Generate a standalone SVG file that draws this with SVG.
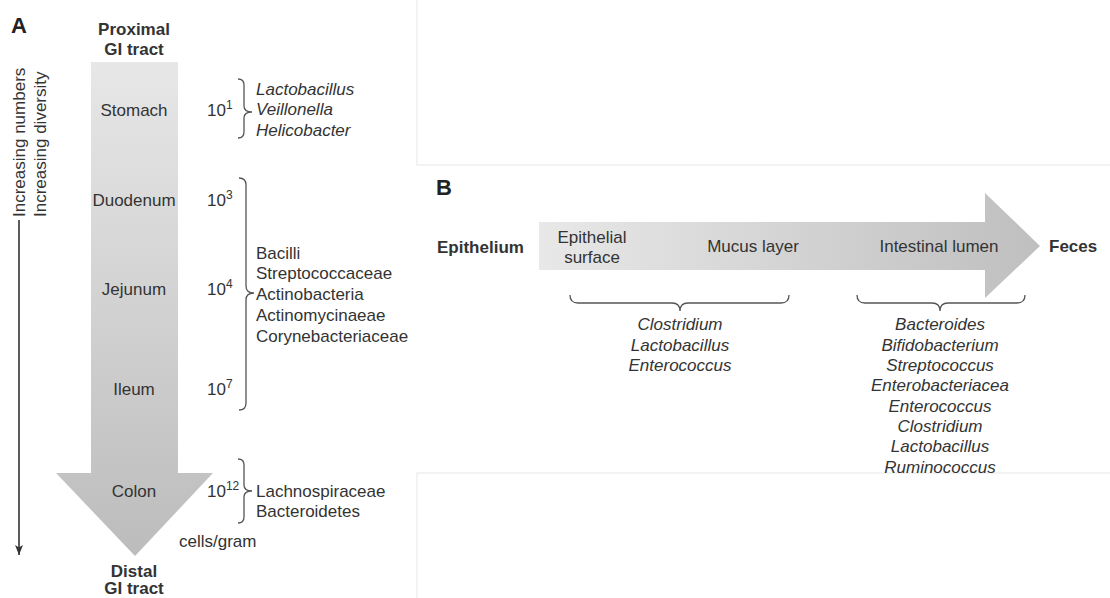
<svg xmlns="http://www.w3.org/2000/svg" width="1110" height="598" viewBox="0 0 1110 598">
<defs>
<linearGradient id="gA" x1="0" y1="62" x2="0" y2="556" gradientUnits="userSpaceOnUse">
<stop offset="0" stop-color="#e7e7e7"/><stop offset="1" stop-color="#bcbcbc"/>
</linearGradient>
<linearGradient id="gB" x1="539" y1="0" x2="1040" y2="0" gradientUnits="userSpaceOnUse">
<stop offset="0" stop-color="#e8e8e8"/><stop offset="1" stop-color="#bfbfbf"/>
</linearGradient>
<marker id="ah" markerWidth="10" markerHeight="10" refX="10" refY="5" orient="auto" markerUnits="userSpaceOnUse" viewBox="0 0 10 10">
<path d="M0,1 L10,5 L0,9 L2.5,5 Z" fill="#333"/>
</marker>
<style>
text{font-family:"Liberation Sans",Arial,sans-serif;fill:#333;font-size:17px}
.b{font-weight:bold}
.i{font-style:italic}
.m{text-anchor:middle}
.lbl{font-size:22px;font-weight:bold;fill:#222}
.br{fill:none;stroke:#555;stroke-width:1.3}
.sup{font-size:12px}
.frame{fill:none;stroke:#f0f0f0;stroke-width:1.5}
</style>
</defs>
<rect width="1110" height="598" fill="#fff"/>
<g id="frames">
<path class="frame" d="M417,0 L417,165 L1110,165"/>
<path class="frame" d="M1110,473 L417,473 L417,598"/>
</g>

<g id="panelA">
<text class="lbl" x="11" y="33">A</text>
<g id="axis">
<line x1="19" y1="220" x2="19" y2="555" stroke="#333" stroke-width="1.6" marker-end="url(#ah)"/>
<text transform="translate(25,217) rotate(-90)" font-size="19">Increasing numbers</text>
<text transform="translate(46,217) rotate(-90)" font-size="19">Increasing diversity</text>
</g>
<g id="tractArrow">
<path d="M91,62 L178,62 L178,473 L213,473 L135,556 L56,473 L91,473 Z" fill="url(#gA)"/>
</g>
<g id="proximal"><text class="b m" x="134" y="35">Proximal</text><text class="b m" x="134" y="55">GI tract</text></g>
<g id="distal"><text class="b m" x="134" y="577">Distal</text><text class="b m" x="134" y="594">GI tract</text></g>
<g id="stomach">
<text class="m" x="134" y="116">Stomach</text>
<text x="207" y="116">10<tspan class="sup" dy="-7">1</tspan></text>
<path class="br" d="M238,79 Q244,79 244,85 L244,106 Q244,112 252,112 Q244,112 244,118 L244,132 Q244,138 238,138"/>
<text class="i" x="256" y="95">Lactobacillus</text>
<text class="i" x="256" y="115">Veillonella</text>
<text class="i" x="256" y="136">Helicobacter</text>
</g>
<g id="duodenum">
<text class="m" x="134" y="206">Duodenum</text>
<text x="207" y="206">10<tspan class="sup" dy="-7">3</tspan></text>
</g>
<g id="jejunum">
<text class="m" x="134" y="295">Jejunum</text>
<text x="207" y="295">10<tspan class="sup" dy="-7">4</tspan></text>
</g>
<g id="ileum">
<text class="m" x="134" y="395">Ileum</text>
<text x="207" y="395">10<tspan class="sup" dy="-7">7</tspan></text>
</g>
<g id="smallIntestineGroup">
<path class="br" d="M239,178 Q246,178 246,185 L246,286 Q246,293 254,293 Q246,293 246,300 L246,403 Q246,410 239,410"/>
<text x="256" y="259">Bacilli</text>
<text x="256" y="279">Streptococcaceae</text>
<text x="256" y="300">Actinobacteria</text>
<text x="256" y="321">Actinomycinaeae</text>
<text x="256" y="342">Corynebacteriaceae</text>
</g>
<g id="colon">
<text class="m" x="134" y="497">Colon</text>
<text x="207" y="497">10<tspan class="sup" dy="-7">12</tspan></text>
<path class="br" d="M238,459 Q244,459 244,465 L244,485 Q244,491 252,491 Q244,491 244,497 L244,517 Q244,523 238,523"/>
<text x="256" y="497">Lachnospiraceae</text>
<text x="256" y="517">Bacteroidetes</text>
</g>
<text x="179" y="547">cells/gram</text>
</g>

<g id="panelB">
<text class="lbl" x="436" y="195">B</text>
<g id="gutArrow">
<path d="M539,222 L985,222 L985,193 L1040,246 L985,298 L985,270 L539,270 Z" fill="url(#gB)"/>
</g>
<g id="epithelium"><text class="b" x="437" y="253">Epithelium</text></g>
<g id="epithelialSurface"><text class="m" x="592" y="243">Epithelial</text><text class="m" x="592" y="263">surface</text></g>
<g id="mucusLayer"><text class="m" x="753" y="252">Mucus layer</text></g>
<g id="intestinalLumen"><text class="m" x="939" y="252">Intestinal lumen</text></g>
<g id="feces"><text class="b" x="1049" y="252">Feces</text></g>
<g id="mucosalGenera">
<path class="br" d="M570,295 Q570,303 578,303 L672,303 Q680,303 680,311 Q680,303 688,303 L781,303 Q789,303 789,295"/>
<text class="i m" x="680" y="330">Clostridium</text>
<text class="i m" x="680" y="351">Lactobacillus</text>
<text class="i m" x="680" y="371">Enterococcus</text>
</g>
<g id="luminalGenera">
<path class="br" d="M857,295 Q857,303 865,303 L932,303 Q940,303 940,311 Q940,303 948,303 L1017,303 Q1025,303 1025,295"/>
<text class="i m" x="940" y="330">Bacteroides</text>
<text class="i m" x="940" y="351">Bifidobacterium</text>
<text class="i m" x="940" y="371">Streptococcus</text>
<text class="i m" x="940" y="391">Enterobacteriacea</text>
<text class="i m" x="940" y="412">Enterococcus</text>
<text class="i m" x="940" y="432">Clostridium</text>
<text class="i m" x="940" y="452">Lactobacillus</text>
<text class="i m" x="940" y="473">Ruminococcus</text>
</g>
</g>
</svg>
